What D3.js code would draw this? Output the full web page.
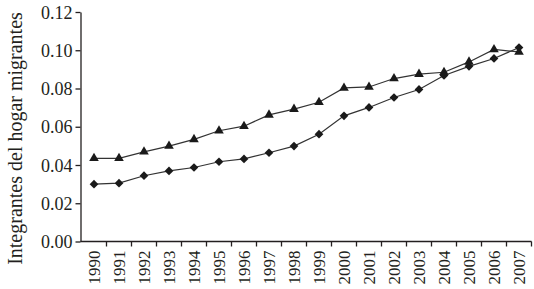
<!DOCTYPE html>
<html>
<head>
<meta charset="utf-8">
<script src="https://cdn.jsdelivr.net/npm/d3@7"></script>
<style>
  body { margin: 0; background: #fff; }
  svg { display: block; }
  text { font-family: "Liberation Serif", "DejaVu Serif", serif; fill: #231f20; }
</style>
</head>
<body>
<svg id="chart" width="534" height="289"></svg>
<script>
const years = ["1990","1991","1992","1993","1994","1995","1996","1997","1998","1999","2000","2001","2002","2003","2004","2005","2006","2007"];
const triangleSeries = [0.0435,0.0435,0.0469,0.0499,0.0534,0.0579,0.0603,0.0662,0.0692,0.0728,0.0803,0.0808,0.0852,0.0875,0.0885,0.0939,0.1004,0.0991];
const diamondSeries  = [0.0300,0.0305,0.0344,0.0369,0.0387,0.0417,0.0432,0.0464,0.0499,0.0561,0.0657,0.0701,0.0753,0.0795,0.0868,0.0916,0.0957,0.1014];
const yTicks = [0, 0.02, 0.04, 0.06, 0.08, 0.10, 0.12];
const yTitle = "Integrantes del hogar migrantes";

const svg = d3.select("#chart");
const mLeft = 80.5, mRight = 531.5, mTop = 12, mBottom = 241.5;

const x = d3.scaleBand().domain(years).range([mLeft + 1, mRight]).paddingInner(0).paddingOuter(0);
const y = d3.scaleLinear().domain([0, 0.12]).range([mBottom, mTop]);

const ink = "#231f20";

// Y axis
const yAxis = svg.append("g")
  .attr("transform", `translate(${mLeft},0)`)
  .call(d3.axisLeft(y).tickValues(yTicks).tickFormat(d3.format(".2f")).tickSize(5).tickSizeOuter(0));
yAxis.select(".domain").attr("stroke", ink).attr("stroke-width", 1.3);
yAxis.selectAll(".tick line").attr("stroke", ink).attr("stroke-width", 1.3);
yAxis.selectAll(".tick text").attr("x", -8).attr("dy", "0.34em")
  .style("font-size", "18px").style("font-family", '"Liberation Serif", serif').attr("fill", ink);

// X axis: ticks at band boundaries
const xg = svg.append("g").attr("transform", `translate(0,${mBottom})`);
xg.append("line").attr("x1", mLeft).attr("x2", mRight).attr("y1", 0).attr("y2", 0)
  .attr("stroke", ink).attr("stroke-width", 1.3);
xg.selectAll("line.tk").data(years).enter().append("line")
  .attr("class", "tk")
  .attr("x1", d => x(d) + x.bandwidth())
  .attr("x2", d => x(d) + x.bandwidth())
  .attr("y1", 0).attr("y2", 5).attr("stroke", ink).attr("stroke-width", 1.3);
xg.selectAll("text.yr").data(years).enter().append("text")
  .attr("class", "yr")
  .attr("transform", d => `translate(${x(d) + x.bandwidth() / 2 + 5.5},9) rotate(-90)`)
  .attr("text-anchor", "end")
  .style("font-size", "17px")
  .text(d => d);

// Y title
svg.append("text")
  .attr("transform", `translate(21.5,138.5) rotate(-90)`)
  .attr("text-anchor", "middle")
  .style("font-size", "20px")
  .text(yTitle);

const cx = d => x(d) + x.bandwidth() / 2;
const line = d3.line().x(d => cx(d.year)).y(d => y(d.v));

function drawSeries(vals, symType, size, rot) {
  const data = years.map((yr, i) => ({ year: yr, v: vals[i] }));
  svg.append("path").datum(data).attr("d", line)
    .attr("fill", "none").attr("stroke", "#333").attr("stroke-width", 1.2);
  svg.selectAll(null).data(data).enter().append("path")
    .attr("transform", d => `translate(${cx(d.year)},${y(d.v)}) rotate(${rot})`)
    .attr("d", d3.symbol().type(symType).size(size)())
    .attr("fill", "#1a1a1a");
}

drawSeries(triangleSeries, d3.symbolTriangle, 40, 0);
drawSeries(diamondSeries, d3.symbolSquare, 38, 45);
</script>
</body>
</html>
